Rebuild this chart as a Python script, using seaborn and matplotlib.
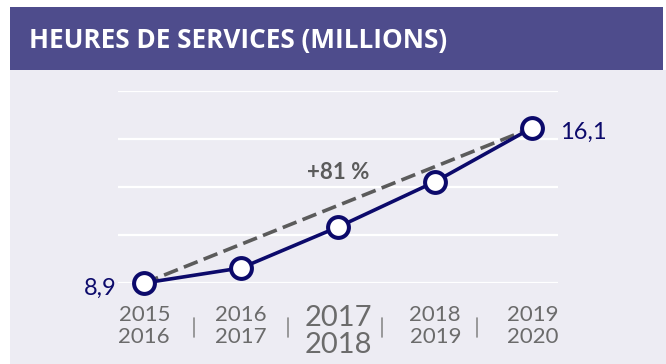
import numpy as np
import pandas as pd
import matplotlib
matplotlib.use("Agg")
import matplotlib.pyplot as plt
from matplotlib.patches import Rectangle
import seaborn as sns

# Service hours (millions) by fiscal year
periods = ["2015\n2016", "2016\n2017", "2017\n2018", "2018\n2019", "2019\n2020"]
hours = [8.9, 9.6, 11.5, 13.6, 16.1]
title = "HEURES DE SERVICES (MILLIONS)"

NAVY = "#0c0a6b"
BAND = "#4e4c8c"
PANEL = "#edecf3"
DASH = "#5b5b5b"
TICK = "#6b6b6b"

sns.set_theme(style="darkgrid", rc={
    "axes.facecolor": PANEL,
    "grid.color": "white",
    "grid.linewidth": 1.6,
})
plt.rcParams["font.family"] = ["Lato", "DejaVu Sans"]

df = pd.DataFrame({"pos": np.arange(len(hours)), "hours": hours})

W, H = 666, 364
fig = plt.figure(figsize=(W / 100, H / 100), dpi=100)
fig.patch.set_facecolor("white")

def fx(px):
    return px / W

def fy(py):
    return 1 - py / H

# panel background and header band
fig.patches.append(Rectangle((fx(10), 0), 1 - fx(10), fy(70), transform=fig.transFigure,
                             facecolor=PANEL, edgecolor="none", zorder=-10))
fig.patches.append(Rectangle((fx(10), fy(70)), fx(653), fy(7) - fy(70), transform=fig.transFigure,
                             facecolor=BAND, edgecolor="none", zorder=-10))
fig.text(fx(29), fy(48), title, color="white", fontsize=18.8, fontweight="bold",
         family=["Open Sans", "DejaVu Sans"], va="baseline", ha="left")

ax = fig.add_axes([fx(118), fy(283), fx(558) - fx(118), fy(91) - fy(283)])
ax.set_zorder(1)
ax.set_facecolor(PANEL)
for s in ax.spines.values():
    s.set_visible(False)

# overall trend between first and last period
first, last = df.iloc[0], df.iloc[-1]
ax.plot([first.pos, last.pos], [first.hours, last.hours], color=DASH, lw=2.6,
        dashes=(4.1, 1.8), zorder=2, clip_on=False)

sns.lineplot(data=df, x="pos", y="hours", ax=ax, color=NAVY, lw=2.6, marker="o",
             markersize=15, markerfacecolor="white", markeredgecolor=NAVY,
             markeredgewidth=2.9, zorder=3, clip_on=False)

ax.set_xlim(-(144.3 - 118) / 97, (558 - 144.3) / 97)
ax.set_ylim(hours[0], 2 * hours[0])
ax.set_yticks(np.linspace(hours[0], 2 * hours[0], 5))
ax.set_yticklabels([])
ax.xaxis.grid(False)
ax.set_xlabel("")
ax.set_ylabel("")
ax.tick_params(axis="both", length=0)

ax.set_xticks(df["pos"])
ax.set_xticklabels(periods, color=TICK, fontsize=16, linespacing=1.08)
ax.tick_params(axis="x", pad=16)
for i, lab in enumerate(ax.get_xticklabels()):
    if i == 2:
        lab.set_fontsize(21)
        lab.set_linespacing(1.05)

# separators between periods
for xs in [0.51, 1.48, 2.45, 3.43]:
    ax.plot([xs, xs], [-0.182, -0.281], transform=ax.get_xaxis_transform(),
            color="#8a8a8a", lw=1.2, clip_on=False)

# end values
ax.annotate(f"{hours[0]:.1f}".replace(".", ","), (first.pos, first.hours),
            xytext=(-19.7, -8.6), textcoords="offset points", ha="right", va="baseline",
            color=NAVY, fontsize=17)
ax.annotate(f"{hours[-1]:.1f}".replace(".", ","), (last.pos, last.hours),
            xytext=(20, -7.7), textcoords="offset points", ha="left", va="baseline",
            color=NAVY, fontsize=17)

growth = round((hours[-1] / hours[0] - 1) * 100)
ax.annotate(f"+{growth} %", ((first.pos + last.pos) / 2, (first.hours + last.hours) / 2),
            xytext=(0, 19), textcoords="offset points", ha="center", va="baseline",
            color=DASH, fontsize=16, fontweight="bold")

fig.savefig("out.png", dpi=100, facecolor=fig.get_facecolor())
